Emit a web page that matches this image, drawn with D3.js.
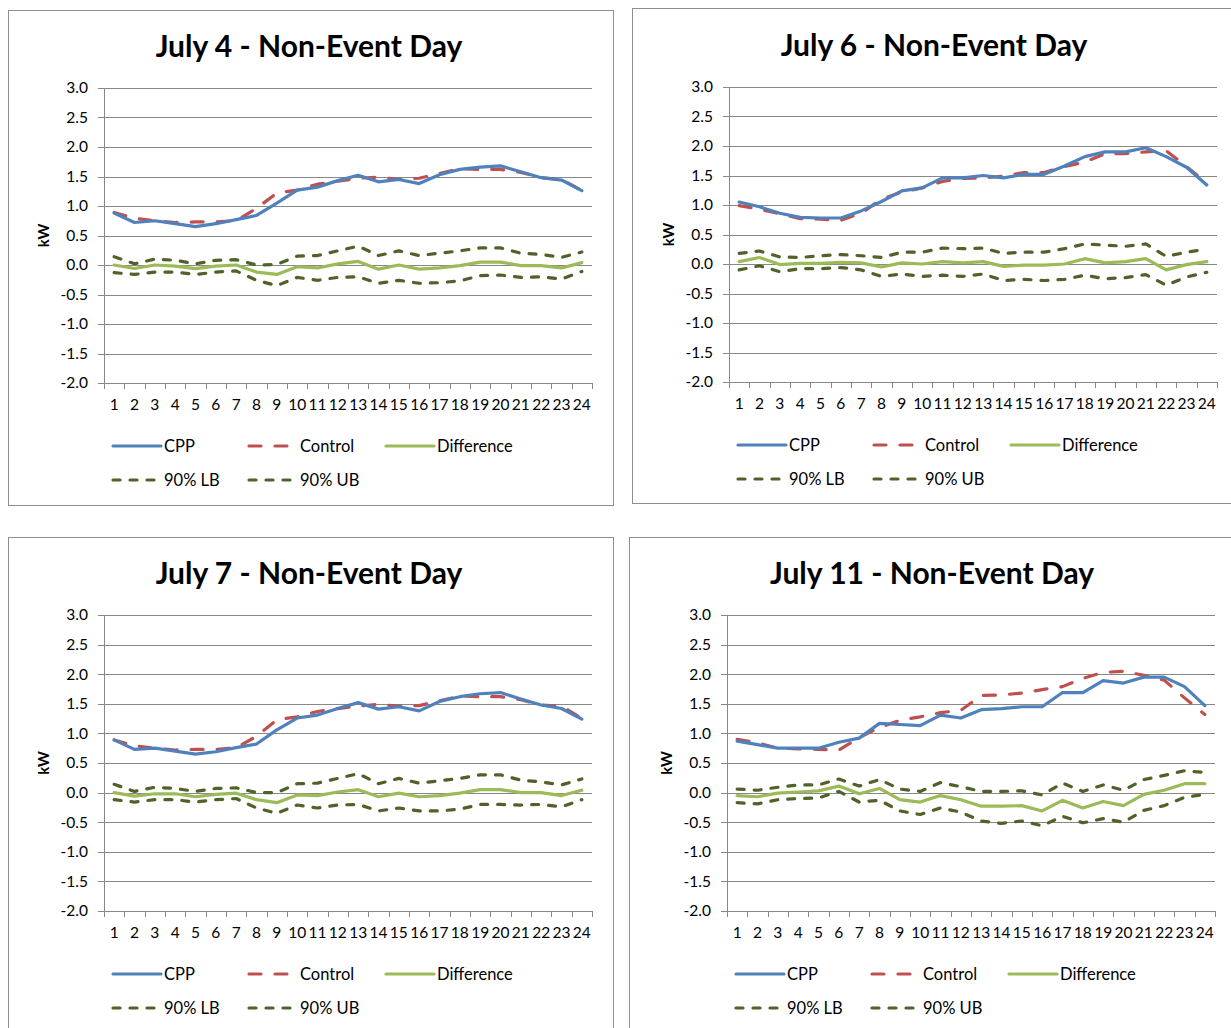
<!DOCTYPE html>
<html>
<head>
<meta charset="utf-8">
<script src="https://cdn.jsdelivr.net/npm/d3@7"></script>
<style>
  html, body { margin: 0; padding: 0; background: #fff; }
  svg { display: block; font-family: Lato, "Open Sans", sans-serif; }
</style>
</head>
<body>
<svg id="chart" width="1231" height="1028"></svg>
<script>
// Hour-of-day categories and y-axis ticks shared by all four panels
const hours = ["1","2","3","4","5","6","7","8","9","10","11","12","13","14","15","16","17","18","19","20","21","22","23","24"];
const yTicks = [-2.0, -1.5, -1.0, -0.5, 0.0, 0.5, 1.0, 1.5, 2.0, 2.5, 3.0];

// July 4
const jul4Cpp     = [0.88,0.72,0.75,0.70,0.65,0.70,0.77,0.84,1.05,1.27,1.32,1.43,1.52,1.41,1.45,1.38,1.53,1.62,1.66,1.68,1.58,1.48,1.44,1.26];
const jul4Control = [0.89,0.79,0.75,0.72,0.73,0.73,0.75,0.96,1.22,1.27,1.37,1.42,1.47,1.49,1.45,1.47,1.55,1.63,1.62,1.62,1.57,1.48,1.45,1.26];
const jul4Diff    = [0.00,-0.06,0.00,-0.02,-0.06,-0.02,0.00,-0.12,-0.16,-0.03,-0.05,0.02,0.06,-0.07,0.00,-0.07,-0.05,-0.01,0.05,0.05,-0.01,-0.01,-0.05,0.04];
const jul4Lb      = [-0.13,-0.16,-0.12,-0.12,-0.16,-0.12,-0.10,-0.26,-0.35,-0.21,-0.26,-0.21,-0.20,-0.31,-0.26,-0.31,-0.30,-0.27,-0.18,-0.17,-0.21,-0.20,-0.24,-0.11];
const jul4Ub      = [0.14,0.02,0.10,0.08,0.02,0.08,0.09,0.00,0.01,0.15,0.16,0.24,0.32,0.16,0.24,0.16,0.20,0.24,0.29,0.29,0.20,0.18,0.13,0.22];

// July 6
const jul6Cpp     = [1.05,0.97,0.86,0.79,0.78,0.78,0.90,1.06,1.24,1.29,1.46,1.46,1.50,1.46,1.52,1.52,1.66,1.82,1.90,1.90,1.97,1.82,1.64,1.34];
const jul6Control = [0.99,0.93,0.85,0.77,0.76,0.74,0.86,1.10,1.22,1.29,1.40,1.45,1.46,1.49,1.55,1.55,1.65,1.73,1.87,1.87,1.90,1.92,1.65,1.37];
const jul6Diff    = [0.04,0.11,-0.01,0.01,0.01,0.03,0.02,-0.05,0.02,0.00,0.04,0.02,0.04,-0.04,-0.02,-0.02,0.00,0.09,0.02,0.04,0.09,-0.10,-0.01,0.04];
const jul6Lb      = [-0.10,-0.03,-0.13,-0.08,-0.08,-0.06,-0.10,-0.21,-0.17,-0.21,-0.19,-0.21,-0.17,-0.28,-0.26,-0.28,-0.26,-0.19,-0.25,-0.23,-0.18,-0.36,-0.22,-0.14];
const jul6Ub      = [0.18,0.22,0.12,0.11,0.14,0.16,0.14,0.11,0.20,0.20,0.27,0.26,0.27,0.18,0.20,0.20,0.26,0.34,0.32,0.30,0.34,0.13,0.20,0.25];

// July 7
const jul7Cpp     = [0.89,0.73,0.75,0.70,0.65,0.69,0.76,0.82,1.06,1.26,1.31,1.42,1.52,1.41,1.45,1.38,1.54,1.62,1.67,1.69,1.58,1.48,1.42,1.24];
const jul7Control = [0.89,0.79,0.75,0.72,0.73,0.73,0.76,0.95,1.23,1.28,1.37,1.42,1.46,1.49,1.46,1.47,1.55,1.63,1.62,1.62,1.57,1.48,1.46,1.25];
const jul7Diff    = [0.00,-0.06,-0.02,-0.02,-0.07,-0.03,-0.01,-0.12,-0.17,-0.04,-0.05,0.01,0.05,-0.07,-0.01,-0.07,-0.05,-0.01,0.05,0.05,0.00,0.00,-0.05,0.04];
const jul7Lb      = [-0.12,-0.16,-0.12,-0.12,-0.16,-0.12,-0.10,-0.26,-0.35,-0.21,-0.26,-0.21,-0.20,-0.31,-0.26,-0.31,-0.31,-0.28,-0.20,-0.20,-0.21,-0.20,-0.24,-0.12];
const jul7Ub      = [0.14,0.02,0.09,0.07,0.02,0.07,0.08,0.00,0.00,0.15,0.16,0.24,0.32,0.15,0.24,0.16,0.20,0.24,0.30,0.30,0.21,0.18,0.13,0.23];

// July 11
const jul11Cpp     = [0.87,0.81,0.75,0.75,0.75,0.85,0.92,1.17,1.15,1.13,1.31,1.26,1.40,1.42,1.45,1.45,1.69,1.69,1.89,1.85,1.95,1.95,1.79,1.47];
const jul11Control = [0.90,0.84,0.75,0.74,0.73,0.72,0.93,1.10,1.22,1.28,1.35,1.39,1.64,1.65,1.68,1.74,1.79,1.93,2.03,2.05,1.98,1.90,1.60,1.32];
const jul11Diff    = [-0.05,-0.07,-0.01,0.01,0.03,0.11,-0.02,0.07,-0.12,-0.16,-0.05,-0.12,-0.23,-0.23,-0.22,-0.31,-0.13,-0.26,-0.15,-0.22,-0.03,0.04,0.15,0.15];
const jul11Lb      = [-0.17,-0.19,-0.12,-0.10,-0.09,0.02,-0.16,-0.13,-0.31,-0.37,-0.26,-0.33,-0.48,-0.52,-0.48,-0.56,-0.40,-0.51,-0.44,-0.50,-0.30,-0.22,-0.08,-0.03];
const jul11Ub      = [0.06,0.04,0.09,0.13,0.13,0.23,0.11,0.22,0.06,0.02,0.17,0.10,0.02,0.02,0.03,-0.04,0.16,0.02,0.13,0.04,0.22,0.29,0.37,0.34];

const seriesNames = ["CPP", "Control", "Difference", "90% LB", "90% UB"];

// Line styling for each series
const styles = {
  "CPP":        { color: "#4F81BD", dash: null,    cap: "round" },
  "Control":    { color: "#C0504D", dash: "12,14", cap: "round" },
  "Difference": { color: "#9BBB59", dash: null,    cap: "round" },
  "90% LB":     { color: "#4F6228", dash: "7,10",  cap: "round" },
  "90% UB":     { color: "#4F6228", dash: "7,10",  cap: "round" }
};

// Panel frames and plot areas
const panels = [
  { title: "July 4 - Non-Event Day",  series: [jul4Cpp, jul4Control, jul4Diff, jul4Lb, jul4Ub],
    frame: [8, 10, 605, 495], plot: [104, 88, 488, 295] },
  { title: "July 6 - Non-Event Day",  series: [jul6Cpp, jul6Control, jul6Diff, jul6Lb, jul6Ub],
    frame: [632, 8, 620, 495], plot: [729, 87, 488, 295] },
  { title: "July 7 - Non-Event Day",  series: [jul7Cpp, jul7Control, jul7Diff, jul7Lb, jul7Ub],
    frame: [8, 537, 605, 520], plot: [104, 615, 488, 296] },
  { title: "July 11 - Non-Event Day", series: [jul11Cpp, jul11Control, jul11Diff, jul11Lb, jul11Ub],
    frame: [629, 537, 620, 520], plot: [727, 615, 488, 296] }
];

const svg = d3.select("#chart");
const gridColor = "#888888";

panels.forEach(p => {
  const [fx, fy, fw, fh] = p.frame;
  svg.append("rect")
    .attr("x", fx + 0.5).attr("y", fy + 0.5)
    .attr("width", fw).attr("height", fh)
    .attr("fill", "#fff").attr("stroke", "#8e8e8e").attr("stroke-width", 1);

  const [px, py, pw, ph] = p.plot;
  const g = svg.append("g").attr("transform", `translate(${px},${py})`);

  const x = d3.scaleBand().domain(hours).range([0, pw]).padding(0);
  const y = d3.scaleLinear().domain([-2, 3]).range([ph, 0]);

  // Title
  g.append("text")
    .attr("x", 205).attr("y", -43)
    .attr("text-anchor", "middle").attr("dominant-baseline", "central")
    .attr("font-size", 30).attr("font-weight", "bold").attr("fill", "#000")
    .text(p.title);

  // Horizontal gridlines with short left ticks
  g.append("g").selectAll("line").data(yTicks).join("line")
    .attr("x1", -6).attr("x2", pw)
    .attr("y1", d => Math.round(y(d)) + 0.5).attr("y2", d => Math.round(y(d)) + 0.5)
    .attr("stroke", gridColor).attr("stroke-width", 1);

  // Y axis labels
  const yAxis = d3.axisLeft(y).tickValues(yTicks).tickFormat(d => d.toFixed(1)).tickSize(0).tickPadding(16);
  const ya = g.append("g").call(yAxis);
  ya.select(".domain").remove();
  ya.selectAll("text").attr("font-size", 15.5).attr("fill", "#000").attr("font-family", "Lato, sans-serif");

  // Vertical axis line
  g.append("line").attr("x1", 0.5).attr("x2", 0.5).attr("y1", 0).attr("y2", ph)
    .attr("stroke", gridColor).attr("stroke-width", 1);

  // Category axis: labels centred in bands, tick marks on band edges
  const xAxis = d3.axisBottom(x).tickSize(0).tickPadding(16);
  const xa = g.append("g").attr("transform", `translate(0,${ph})`).call(xAxis);
  xa.select(".domain").remove();
  xa.selectAll("text").attr("font-size", 15.5).attr("fill", "#000").attr("font-family", "Lato, sans-serif");
  const edges = hours.map(h => x(h)).concat([pw]);
  g.append("g").selectAll("line").data(edges).join("line")
    .attr("x1", d => Math.round(d) + 0.5).attr("x2", d => Math.round(d) + 0.5)
    .attr("y1", ph).attr("y2", ph + 6)
    .attr("stroke", gridColor).attr("stroke-width", 1);

  // Y axis title
  g.append("text")
    .attr("transform", `translate(-61,${ph / 2}) rotate(-90)`)
    .attr("text-anchor", "middle").attr("dominant-baseline", "central")
    .attr("font-size", 15).attr("font-weight", "bold").text("kW");

  // Series lines
  const line = d3.line().x((d, i) => x(hours[i]) + x.bandwidth() / 2).y(d => y(d));
  const order = [3, 4, 2, 1, 0];
  order.forEach(k => {
    const name = seriesNames[k];
    const s = styles[name];
    g.append("path")
      .datum(p.series[k])
      .attr("d", line)
      .attr("fill", "none")
      .attr("stroke", s.color)
      .attr("stroke-width", 3.2)
      .attr("stroke-linejoin", "round")
      .attr("stroke-linecap", s.cap)
      .attr("stroke-dasharray", s.dash);
  });

  // Legend
  const legendItems = [
    { name: "CPP",        lx: 7,   row: 0 },
    { name: "Control",    lx: 143, row: 0 },
    { name: "Difference", lx: 280, row: 0 },
    { name: "90% LB",     lx: 7,   row: 1 },
    { name: "90% UB",     lx: 143, row: 1 }
  ];
  const lg = g.append("g").attr("transform", `translate(0,${ph + 63})`);
  legendItems.forEach(it => {
    const s = styles[it.name];
    const yy = it.row * 34;
    lg.append("line")
      .attr("x1", it.lx + 2).attr("x2", it.lx + 50)
      .attr("y1", yy).attr("y2", yy)
      .attr("stroke", s.color).attr("stroke-width", 3.2)
      .attr("stroke-linecap", s.cap)
      .attr("stroke-dasharray", s.dash);
    lg.append("text")
      .attr("x", it.lx + 53).attr("y", yy)
      .attr("dominant-baseline", "central")
      .attr("font-size", 16.5).attr("fill", "#000")
      .text(it.name);
  });
});
</script>
</body>
</html>
